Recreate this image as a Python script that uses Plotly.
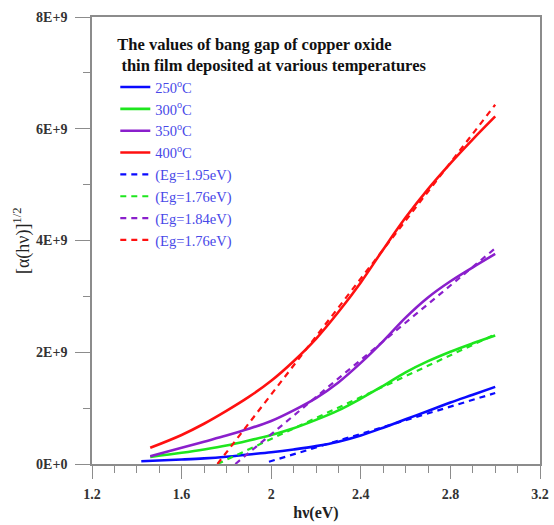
import plotly.graph_objects as go

# photon energy grid (eV) and [alpha(hv)]^(1/2) values
x_250 = [1.42, 1.6, 1.7, 1.8, 1.9, 2.0, 2.1, 2.2, 2.3, 2.4, 2.5, 2.6, 2.7, 2.8, 2.9, 3.0]
y_250 = [0.05e9, 0.08e9, 0.10e9, 0.13e9, 0.17e9, 0.21e9, 0.26e9, 0.32e9, 0.40e9, 0.51e9,
         0.65e9, 0.80e9, 0.95e9, 1.10e9, 1.24e9, 1.38e9]

x_300 = [1.46, 1.6, 1.7, 1.8, 1.9, 2.0, 2.1, 2.2, 2.3, 2.4, 2.5, 2.6, 2.7, 2.8, 2.9, 3.0]
y_300 = [0.125e9, 0.20e9, 0.26e9, 0.33e9, 0.42e9, 0.52e9, 0.64e9, 0.79e9, 0.96e9, 1.17e9,
         1.40e9, 1.64e9, 1.84e9, 2.01e9, 2.16e9, 2.30e9]

x_350 = [1.46, 1.6, 1.7, 1.8, 1.9, 2.0, 2.1, 2.2, 2.3, 2.4, 2.5, 2.6, 2.7, 2.8, 2.9, 3.0]
y_350 = [0.14e9, 0.29e9, 0.40e9, 0.51e9, 0.63e9, 0.77e9, 0.96e9, 1.18e9, 1.46e9, 1.81e9,
         2.20e9, 2.62e9, 2.98e9, 3.27e9, 3.52e9, 3.76e9]

x_400 = [1.46, 1.6, 1.7, 1.8, 1.9, 2.0, 2.1, 2.2, 2.3, 2.4, 2.5, 2.6, 2.7, 2.8, 2.9, 3.0]
y_400 = [0.29e9, 0.52e9, 0.72e9, 0.95e9, 1.20e9, 1.49e9, 1.84e9, 2.24e9, 2.72e9, 3.25e9,
         3.84e9, 4.41e9, 4.92e9, 5.38e9, 5.81e9, 6.22e9]

# linear fits (Tauc extrapolation) - endpoints
fit_x_250 = [1.99, 3.0]
fit_y_250 = [0.04e9, 1.27e9]
fit_x_300 = [1.76, 3.0]
fit_y_300 = [0.0, 2.32e9]
fit_x_350 = [1.84, 3.0]
fit_y_350 = [0.0, 3.86e9]
fit_x_400 = [1.76, 3.0]
fit_y_400 = [0.0, 6.43e9]

names_solid = ["250<sup>o</sup>C", "300<sup>o</sup>C", "350<sup>o</sup>C", "400<sup>o</sup>C"]
names_fit = ["(Eg=1.95eV)", "(Eg=1.76eV)", "(Eg=1.84eV)", "(Eg=1.76eV)"]

x_tickvals = [1.2, 1.6, 2.0, 2.4, 2.8, 3.2]
x_ticktext = ["1.2", "1.6", "2", "2.4", "2.8", "3.2"]
y_tickvals = [0, 2e9, 4e9, 6e9, 8e9]
y_ticktext = ["0E+0", "2E+9", "4E+9", "6E+9", "8E+9"]

colors = ["#0a0aff", "#1ee61e", "#8a1fcc", "#ff1010"]
SERIF = "Liberation Serif, Times New Roman, serif"

fig = go.Figure()
solids = [(x_250, y_250), (x_300, y_300), (x_350, y_350), (x_400, y_400)]
fits = [(fit_x_250, fit_y_250), (fit_x_300, fit_y_300), (fit_x_350, fit_y_350), (fit_x_400, fit_y_400)]

for (xs, ys), nm, c in zip(solids, names_solid, colors):
    fig.add_trace(go.Scatter(x=xs, y=ys, mode="lines", name=nm,
                             line=dict(color=c, width=2.6, shape="spline", smoothing=1.0)))
for (xs, ys), nm, c in zip(fits, names_fit, colors):
    fig.add_trace(go.Scatter(x=xs, y=ys, mode="lines", name=nm,
                             line=dict(color=c, width=2.2, dash="6px,5px")))

axis_common = dict(
    showline=True, linecolor="#8c8c8c", linewidth=1.5, mirror=True,
    ticks="outside", tickcolor="#8c8c8c", tickwidth=1.2,
    showgrid=False, zeroline=False, automargin=False,
)

fig.update_xaxes(range=[1.2, 3.2], tickmode="array", tickvals=x_tickvals, ticktext=x_ticktext,
                 ticklen=13, ticklabelstandoff=3,
                 minor=dict(dtick=0.1, ticks="outside", ticklen=7, tickcolor="#8c8c8c", tickwidth=1.2),
                 tickfont=dict(family=SERIF, size=14, color="#333333", weight="bold"),
                 title=dict(text="<b>hν(eV)</b>", font=dict(family=SERIF, size=16, color="#222222"),
                            standoff=6),
                 **axis_common)
fig.update_yaxes(range=[0, 8e9], tickmode="array", tickvals=y_tickvals, ticktext=y_ticktext,
                 ticklen=15, ticklabelstandoff=5,
                 minor=dict(dtick=1e9, ticks="outside", ticklen=7, tickcolor="#8c8c8c", tickwidth=1.2),
                 tickfont=dict(family=SERIF, size=14, color="#333333", weight="bold"),
                 **axis_common)

fig.add_annotation(text="[α(hν)]<sup>1/2</sup>", xref="paper", yref="paper",
                   x=-0.126, y=0.5, xanchor="right", yanchor="middle", textangle=-90,
                   showarrow=False, font=dict(family=SERIF, size=18, color="#222222"))

fig.update_layout(
    width=554, height=525,
    margin=dict(l=92, r=14, t=17, b=61),
    paper_bgcolor="white", plot_bgcolor="white",
    showlegend=True,
    legend=dict(
        x=0.052, y=0.975, xanchor="left", yanchor="top",
        bgcolor="rgba(0,0,0,0)", borderwidth=0,
        font=dict(family=SERIF, size=14.5, color="#4848e8"),
        title=dict(text="<b>The values of bang gap of copper oxide<br> thin film deposited at various temperatures</b>",
                   font=dict(family=SERIF, size=16.5, color="#111111"), side="top"),
        tracegroupgap=0, itemwidth=30,
    ),
)

fig.write_html("out.html")
